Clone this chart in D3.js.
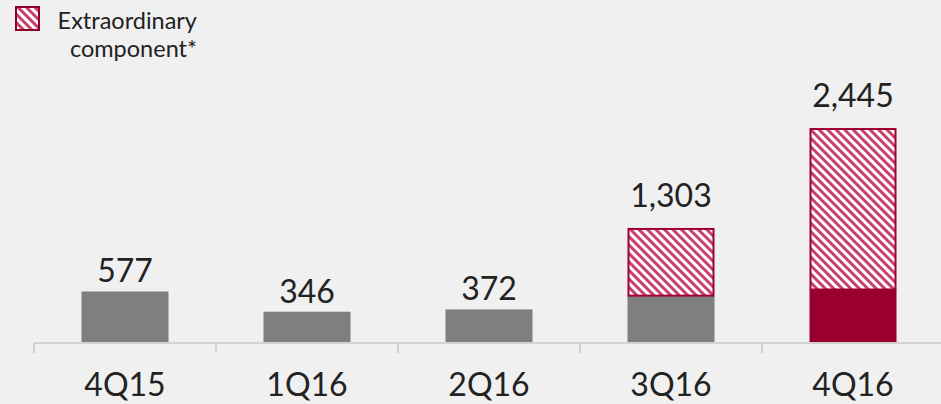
<!DOCTYPE html>
<html>
<head>
<meta charset="utf-8">
<script src="https://cdn.jsdelivr.net/npm/d3@7"></script>
<style>
  html, body { margin: 0; padding: 0; background: #f0f0f0; }
  svg { display: block; font-family: Lato, "Open Sans", sans-serif; }
</style>
</head>
<body>
<div id="chart"></div>
<script>
const categories = ['4Q15', '1Q16', '2Q16', '3Q16', '4Q16']
const totals = [577, 346, 372, 1303, 2445]
const baseValues = [577, 346, 372, 530, 600]
const extraValues = [0, 0, 0, 773, 1845]
const totalLabels = ['577', '346', '372', '1,303', '2,445']
const legendLines = ['Extraordinary', 'component*']

const width = 941, height = 404
const gray = '#7f7f7f', red = '#990030', hatch = '#c8416b'

const svg = d3.select('#chart').append('svg')
  .attr('width', width)
  .attr('height', height)

// hatch pattern for the extraordinary part
const pat = svg.append('defs').append('pattern')
  .attr('id', 'hatch')
  .attr('patternUnits', 'userSpaceOnUse')
  .attr('width', 6)
  .attr('height', 6)
  .attr('patternTransform', 'rotate(-45)')
pat.append('rect').attr('width', 6).attr('height', 6).attr('fill', '#fff')
pat.append('rect').attr('width', 3).attr('height', 6).attr('fill', hatch)

const x = d3.scaleBand()
  .domain(categories)
  .range([34, 944])
  .padding(0)

const y = d3.scaleLinear()
  .domain([0, 2445])
  .range([342, 128])

const barW = x.bandwidth() * 0.478
const cx = d => x(d) + x.bandwidth() / 2

// axis line with ticks at band edges
const axis = svg.append('g')
axis.append('line')
  .attr('x1', 34).attr('x2', 944)
  .attr('y1', 343).attr('y2', 343)
  .attr('stroke', '#c8c8c8').attr('stroke-width', 1.5)
axis.selectAll('.tick')
  .data(categories.concat(['end']))
  .enter().append('line')
  .attr('x1', (d, i) => i < categories.length ? x(d) : x.range()[1])
  .attr('x2', (d, i) => i < categories.length ? x(d) : x.range()[1])
  .attr('y1', 343).attr('y2', 353)
  .attr('stroke', '#c8c8c8').attr('stroke-width', 1.5)

axis.selectAll('.cat')
  .data(categories)
  .enter().append('text')
  .attr('x', d => cx(d))
  .attr('y', 396)
  .attr('text-anchor', 'middle')
  .attr('font-size', 32)
  .attr('fill', '#222')
  .text(d => d)

// base bars
svg.append('g').selectAll('rect')
  .data(categories)
  .enter().append('rect')
  .attr('x', d => cx(d) - barW / 2)
  .attr('width', barW)
  .attr('y', (d, i) => y(baseValues[i]))
  .attr('height', (d, i) => y(0) - y(baseValues[i]))
  .attr('fill', (d, i) => i === categories.length - 1 ? red : gray)

// extraordinary hatched part
svg.append('g').selectAll('rect')
  .data(categories.filter((d, i) => extraValues[i] > 0))
  .enter().append('rect')
  .attr('x', d => cx(d) - barW / 2 + 1)
  .attr('width', barW - 2)
  .attr('y', d => y(totals[categories.indexOf(d)]) + 1)
  .attr('height', d => {
    const i = categories.indexOf(d)
    return y(baseValues[i]) - y(totals[i]) - 1
  })
  .attr('fill', 'url(#hatch)')
  .attr('stroke', '#a00032')
  .attr('stroke-width', 2)

// totals
svg.append('g').selectAll('text')
  .data(categories)
  .enter().append('text')
  .attr('x', d => cx(d))
  .attr('y', (d, i) => y(totals[i]) - (extraValues[i] > 0 ? 21 : 9))
  .attr('text-anchor', 'middle')
  .attr('font-size', 32)
  .attr('fill', '#222')
  .text((d, i) => totalLabels[i])

// legend
const lg = svg.append('g')
lg.append('rect')
  .attr('x', 16).attr('y', 7)
  .attr('width', 23).attr('height', 23)
  .attr('fill', 'url(#hatch)')
  .attr('stroke', '#8a0028').attr('stroke-width', 2)
lg.selectAll('text')
  .data(legendLines)
  .enter().append('text')
  .attr('x', 197)
  .attr('y', (d, i) => 29 + i * 28)
  .attr('text-anchor', 'end')
  .attr('font-size', 23.5)
  .attr('fill', '#222')
  .text(d => d)
</script>
</body>
</html>
